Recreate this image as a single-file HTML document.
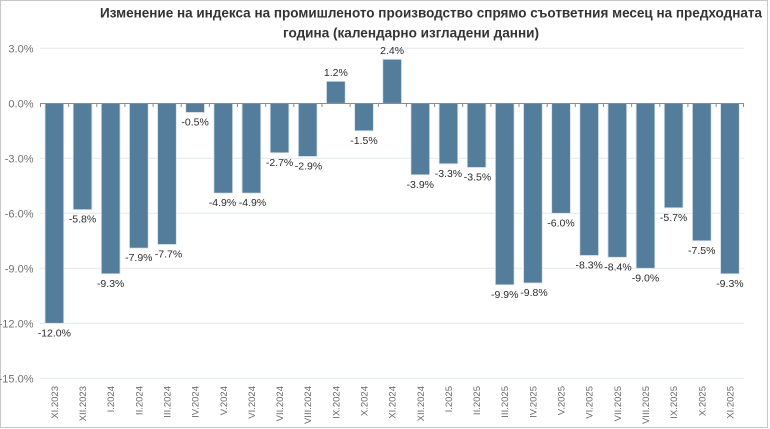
<!DOCTYPE html>
<html><head><meta charset="utf-8">
<style>
html,body{margin:0;padding:0;background:#fff;}
svg{display:block;}
text{font-family:"Liberation Sans","DejaVu Sans",sans-serif;}
.yl{font-size:11px;fill:#707070;text-anchor:end;}
.xl{font-size:9.5px;fill:#6b6b6b;text-anchor:end;}
.dl{font-size:10.5px;fill:#2b2b2b;text-anchor:middle;}
.t{font-size:14px;font-weight:bold;fill:#333;}
.b{fill:#547c9b;stroke:#d6e2ec;stroke-width:0.8;}
</style></head>
<body>
<svg width="770" height="429" viewBox="0 0 770 429" xmlns="http://www.w3.org/2000/svg">
<rect x="0.5" y="0.5" width="767" height="427" fill="#fff" stroke="#c9c5c9" stroke-width="1"/>
<text class="t" x="100" y="17.5" textLength="662" lengthAdjust="spacingAndGlyphs">Изменение на индекса на промишленото производство спрямо съответния месец на предходната</text>
<text class="t" x="283" y="37.5" textLength="256" lengthAdjust="spacingAndGlyphs">година (календарно изгладени данни)</text>

<g stroke="#e4e8f0" stroke-width="1">
<line x1="40" x2="744" y1="48.3" y2="48.3"/>
<line x1="40" x2="744" y1="158.3" y2="158.3"/>
<line x1="40" x2="744" y1="213.3" y2="213.3"/>
<line x1="40" x2="744" y1="268.3" y2="268.3"/>
<line x1="40" x2="744" y1="323.3" y2="323.3"/>
<line x1="40" x2="744" y1="378.3" y2="378.3"/>
</g>

<g>
<text class="yl" x="33.5" y="52.3">3.0%</text>
<text class="yl" x="33.5" y="107.3">0.0%</text>
<text class="yl" x="33.5" y="162.3">-3.0%</text>
<text class="yl" x="33.5" y="217.3">-6.0%</text>
<text class="yl" x="33.5" y="272.3">-9.0%</text>
<text class="yl" x="33.5" y="327.3">-12.0%</text>
<text class="yl" x="33.5" y="382.3">-15.0%</text>
</g>

<g>
<rect class="b" x="45.02" y="103.3" width="18.7" height="220"/>
<rect class="b" x="73.17" y="103.3" width="18.7" height="106.33"/>
<rect class="b" x="101.32" y="103.3" width="18.7" height="170.5"/>
<rect class="b" x="129.46" y="103.3" width="18.7" height="144.83"/>
<rect class="b" x="157.61" y="103.3" width="18.7" height="141.17"/>
<rect class="b" x="185.76" y="103.3" width="18.7" height="9.17"/>
<rect class="b" x="213.91" y="103.3" width="18.7" height="89.83"/>
<rect class="b" x="242.06" y="103.3" width="18.7" height="89.83"/>
<rect class="b" x="270.2" y="103.3" width="18.7" height="49.5"/>
<rect class="b" x="298.35" y="103.3" width="18.7" height="53.17"/>
<rect class="b" x="326.5" y="81.3" width="18.7" height="22"/>
<rect class="b" x="354.65" y="103.3" width="18.7" height="27.5"/>
<rect class="b" x="382.8" y="59.3" width="18.7" height="44"/>
<rect class="b" x="410.94" y="103.3" width="18.7" height="71.5"/>
<rect class="b" x="439.09" y="103.3" width="18.7" height="60.5"/>
<rect class="b" x="467.24" y="103.3" width="18.7" height="64.17"/>
<rect class="b" x="495.39" y="103.3" width="18.7" height="181.5"/>
<rect class="b" x="523.54" y="103.3" width="18.7" height="179.67"/>
<rect class="b" x="551.68" y="103.3" width="18.7" height="110"/>
<rect class="b" x="579.83" y="103.3" width="18.7" height="152.17"/>
<rect class="b" x="607.98" y="103.3" width="18.7" height="154"/>
<rect class="b" x="636.13" y="103.3" width="18.7" height="165"/>
<rect class="b" x="664.28" y="103.3" width="18.7" height="104.5"/>
<rect class="b" x="692.42" y="103.3" width="18.7" height="137.5"/>
<rect class="b" x="720.57" y="103.3" width="18.7" height="170.5"/>
</g>

<g stroke="#8a8a8a" stroke-width="1">
<line x1="40" x2="744" y1="103.5" y2="103.5"/>
<line x1="40.5" x2="40.5" y1="103" y2="107"/>
<line x1="68.6" x2="68.6" y1="103" y2="107"/>
<line x1="96.8" x2="96.8" y1="103" y2="107"/>
<line x1="124.9" x2="124.9" y1="103" y2="107"/>
<line x1="153.1" x2="153.1" y1="103" y2="107"/>
<line x1="181.2" x2="181.2" y1="103" y2="107"/>
<line x1="209.4" x2="209.4" y1="103" y2="107"/>
<line x1="237.5" x2="237.5" y1="103" y2="107"/>
<line x1="265.7" x2="265.7" y1="103" y2="107"/>
<line x1="293.8" x2="293.8" y1="103" y2="107"/>
<line x1="322" x2="322" y1="103" y2="107"/>
<line x1="350.1" x2="350.1" y1="103" y2="107"/>
<line x1="378.3" x2="378.3" y1="103" y2="107"/>
<line x1="406.4" x2="406.4" y1="103" y2="107"/>
<line x1="434.6" x2="434.6" y1="103" y2="107"/>
<line x1="462.7" x2="462.7" y1="103" y2="107"/>
<line x1="490.9" x2="490.9" y1="103" y2="107"/>
<line x1="519" x2="519" y1="103" y2="107"/>
<line x1="547.2" x2="547.2" y1="103" y2="107"/>
<line x1="575.3" x2="575.3" y1="103" y2="107"/>
<line x1="603.5" x2="603.5" y1="103" y2="107"/>
<line x1="631.6" x2="631.6" y1="103" y2="107"/>
<line x1="659.8" x2="659.8" y1="103" y2="107"/>
<line x1="687.9" x2="687.9" y1="103" y2="107"/>
<line x1="716.1" x2="716.1" y1="103" y2="107"/>
<line x1="743.5" x2="743.5" y1="103" y2="107"/>
</g>

<g>
<text class="dl" x="54.37" y="336.3">-12.0%</text>
<text class="dl" x="82.52" y="222.6">-5.8%</text>
<text class="dl" x="110.67" y="286.8">-9.3%</text>
<text class="dl" x="138.81" y="261.1">-7.9%</text>
<text class="dl" x="168.5" y="257.5">-7.7%</text>
<text class="dl" x="195.11" y="125.5">-0.5%</text>
<text class="dl" x="222.5" y="206.1">-4.9%</text>
<text class="dl" x="252.5" y="206.1">-4.9%</text>
<text class="dl" x="279.55" y="165.8">-2.7%</text>
<text class="dl" x="308.5" y="169.5">-2.9%</text>
<text class="dl" x="335.85" y="75.8">1.2%</text>
<text class="dl" x="364" y="143.8">-1.5%</text>
<text class="dl" x="392.15" y="53.8">2.4%</text>
<text class="dl" x="420.29" y="187.8">-3.9%</text>
<text class="dl" x="448.44" y="176.8">-3.3%</text>
<text class="dl" x="477.5" y="180.5">-3.5%</text>
<text class="dl" x="504.74" y="297.8">-9.9%</text>
<text class="dl" x="534" y="296">-9.8%</text>
<text class="dl" x="561.03" y="226.3">-6.0%</text>
<text class="dl" x="589.18" y="268.5">-8.3%</text>
<text class="dl" x="618" y="270.3">-8.4%</text>
<text class="dl" x="645.48" y="281.3">-9.0%</text>
<text class="dl" x="673.63" y="220.8">-5.7%</text>
<text class="dl" x="701.77" y="253.8">-7.5%</text>
<text class="dl" x="729.92" y="286.8">-9.3%</text>
</g>

<g>
<text class="xl" transform="translate(57.9,386) rotate(-90)">XI.2023</text>
<text class="xl" transform="translate(86,386) rotate(-90)">XII.2023</text>
<text class="xl" transform="translate(114.2,386) rotate(-90)">I.2024</text>
<text class="xl" transform="translate(142.3,386) rotate(-90)">II.2024</text>
<text class="xl" transform="translate(170.5,386) rotate(-90)">III.2024</text>
<text class="xl" transform="translate(198.6,386) rotate(-90)">IV.2024</text>
<text class="xl" transform="translate(226.8,386) rotate(-90)">V.2024</text>
<text class="xl" transform="translate(254.9,386) rotate(-90)">VI.2024</text>
<text class="xl" transform="translate(283.1,386) rotate(-90)">VII.2024</text>
<text class="xl" transform="translate(311.2,386) rotate(-90)">VIII.2024</text>
<text class="xl" transform="translate(339.4,386) rotate(-90)">IX.2024</text>
<text class="xl" transform="translate(367.5,386) rotate(-90)">X.2024</text>
<text class="xl" transform="translate(395.7,386) rotate(-90)">XI.2024</text>
<text class="xl" transform="translate(423.8,386) rotate(-90)">XII.2024</text>
<text class="xl" transform="translate(451.9,386) rotate(-90)">I.2025</text>
<text class="xl" transform="translate(480.1,386) rotate(-90)">II.2025</text>
<text class="xl" transform="translate(508.2,386) rotate(-90)">III.2025</text>
<text class="xl" transform="translate(536.4,386) rotate(-90)">IV.2025</text>
<text class="xl" transform="translate(564.5,386) rotate(-90)">V.2025</text>
<text class="xl" transform="translate(592.7,386) rotate(-90)">VI.2025</text>
<text class="xl" transform="translate(620.8,386) rotate(-90)">VII.2025</text>
<text class="xl" transform="translate(649,386) rotate(-90)">VIII.2025</text>
<text class="xl" transform="translate(677.1,386) rotate(-90)">IX.2025</text>
<text class="xl" transform="translate(705.3,386) rotate(-90)">X.2025</text>
<text class="xl" transform="translate(733.4,386) rotate(-90)">XI.2025</text>
</g>
</svg>
</body></html>
